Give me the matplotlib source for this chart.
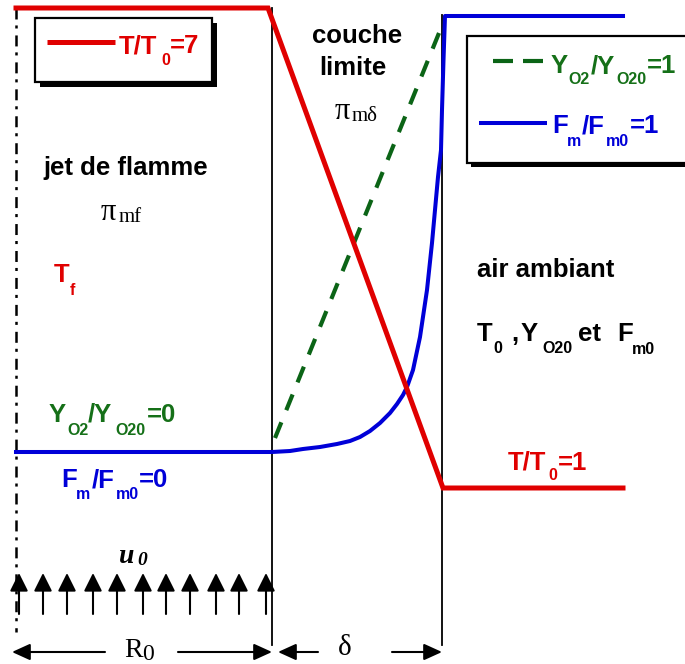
import matplotlib
matplotlib.use('Agg')
import matplotlib.pyplot as plt
from matplotlib.patches import Rectangle

plt.rcParams['lines.scale_dashes'] = False

W, H = 685, 664

# ---------------- schematic data (sketch units, y pointing down) ----------------
# temperature profile T/T0 (7 in the jet, 1 in ambient air)
red_x = [16, 268, 443, 623]
red_y = [8, 8, 488, 488]
# fuel mass fraction profile Fm/Fm0
blue_x = [16, 272, 290, 303, 320, 337, 350, 360, 370, 380, 390, 397, 403, 407, 413, 420,
          427, 432, 435, 438, 441, 442, 443.5, 445, 623]
blue_y = [452, 452, 451, 449, 447, 444, 441, 437, 431, 423, 413, 404, 395, 387, 370, 337,
          290, 243, 210, 177, 150, 110, 60, 16, 16]
# oxygen mass fraction profile YO2/YO20
green_x = [275, 439]
green_y = [438, 33]
# jet axis and layer boundaries
axis_x = [16, 16]
axis_y = [8, 632]
wall_R0_x = [272, 272]
wall_R0_y = [8, 645]
wall_d_x = [442, 442]
wall_d_y = [15, 645]
# jet velocity arrows u0
u_arrow_x = [19, 43, 67, 93, 117, 143, 166, 190, 216, 239, 266]
u_arrow_tail, u_arrow_tip = 614, 573
# dimension arrows (tail, tip) at y = 652
dim_y = 652
dim_arrows = [(105, 12), (178, 272), (318, 278), (392, 442)]

RED = '#E00000'
GREEN = '#0B6416'
BLUE = '#0000D8'
GREEN_T = '#157018'

fig = plt.figure(figsize=(W / 100, H / 100), dpi=100)
ax = fig.add_axes([0, 0, 1, 1])
ax.set_xlim(0, W)
ax.set_ylim(H, 0)
ax.axis('off')

# axis of the jet (dash-dot)
ax.plot(axis_x, axis_y, color='black', lw=1.8, dashes=(7.9, 4.3, 2.2, 5.0), zorder=2)
# boundaries
ax.plot(wall_R0_x, wall_R0_y, color='black', lw=1.3, zorder=2)
ax.plot(wall_d_x, wall_d_y, color='black', lw=1.3, zorder=2)

# profiles
ax.plot(green_x, green_y, color=GREEN, lw=3.0, dashes=(12.2, 9.4), dash_capstyle='butt', zorder=3)
ax.plot(blue_x, blue_y, color=BLUE, lw=2.9, solid_joinstyle='round', zorder=4)
ax.plot(red_x, red_y, color=RED, lw=3.6, solid_joinstyle='miter', zorder=5)

# velocity arrows
for x in u_arrow_x:
    ax.annotate('', xy=(x, u_arrow_tip), xytext=(x, u_arrow_tail),
                arrowprops=dict(arrowstyle='-|>,head_length=11,head_width=5.5',
                                mutation_scale=1, lw=1.5, color='black',
                                shrinkA=0, shrinkB=0), zorder=6)
for tail, tip in dim_arrows:
    ax.annotate('', xy=(tip, dim_y), xytext=(tail, dim_y),
                arrowprops=dict(arrowstyle='-|>,head_length=11,head_width=5',
                                mutation_scale=1, lw=1.5, color='black',
                                shrinkA=0, shrinkB=0), zorder=6)

# legend boxes with shadows
ax.add_patch(Rectangle((40, 23), 177, 64, facecolor='black', edgecolor='none', zorder=7))
ax.add_patch(Rectangle((35, 18), 177, 64, facecolor='white', edgecolor='black', lw=1.6, zorder=8))
ax.plot([47, 115], [42, 42], color=RED, lw=3.6, solid_capstyle='butt', zorder=9)

ax.add_patch(Rectangle((471, 40), 240, 127, facecolor='black', edgecolor='none', zorder=7, clip_on=False))
ax.add_patch(Rectangle((467, 36), 240, 127, facecolor='white', edgecolor='black', lw=1.6, zorder=8))
ax.plot([493, 543], [61, 61], color=GREEN, lw=3.0, dashes=(14.4, 7.2), dash_capstyle='butt', zorder=9)
ax.plot([479, 547], [123, 123], color=BLUE, lw=2.9, solid_capstyle='butt', zorder=9)

# ---------------- texts ----------------
SANS = 'Liberation Sans'
SERIF = 'Liberation Serif'
MAIN, SUB = 18.5, 11.5


def rich(pieces, color):
    for s, x, y, kind in pieces:
        size = MAIN if kind == 'main' else SUB
        ax.text(x, y, s, color=color, fontsize=size, fontfamily=SANS, fontweight='bold',
                ha='left', va='baseline', zorder=10)


rich([("T/T", 119, 53, 'main'), ("0", 161, 65, 'sub'), ("=7", 170, 53, 'main')], RED)
rich([("Y", 551, 73, 'main'), ("O2", 568, 84, 'sub'), ("/Y", 591, 73, 'main'),
      ("O20", 616, 84, 'sub'), ("=1", 647, 73, 'main')], GREEN_T)
rich([("F", 552, 133, 'main'), ("m", 567, 146, 'sub'), ("/F", 582, 133, 'main'),
      ("m0", 606, 146, 'sub'), ("=1", 630, 133, 'main')], BLUE)
rich([("Y", 49, 422, 'main'), ("O2", 67, 435, 'sub'), ("/Y", 88, 422, 'main'),
      ("O20", 115, 435, 'sub'), ("=0", 147, 422, 'main')], GREEN_T)
rich([("F", 61, 487, 'main'), ("m", 76, 499, 'sub'), ("/F", 92, 487, 'main'),
      ("m0", 116, 499, 'sub'), ("=0", 139, 487, 'main')], BLUE)
rich([("T", 54, 282, 'main'), ("f", 70, 295, 'sub')], RED)
rich([("T", 477, 341, 'main'), ("0", 493, 353, 'sub'), (",", 511, 341, 'main'),
      ("Y", 521, 341, 'main'), ("O20", 542, 353, 'sub'), ("et", 578, 341, 'main'),
      ("F", 617, 341, 'main'), ("m0", 632, 354, 'sub')], 'black')
rich([("T/T", 508, 470, 'main'), ("0", 548, 480, 'sub'), ("=1", 558, 470, 'main')], RED)

for s, x, y in [("jet de flamme", 126, 175), ("couche", 357, 43), ("limite", 353, 75)]:
    ax.text(x, y, s, fontsize=MAIN, fontfamily=SANS, fontweight='bold', ha='center',
            va='baseline', zorder=10)
ax.text(477, 277, "air ambiant", fontsize=MAIN, fontfamily=SANS, fontweight='bold',
        ha='left', va='baseline', zorder=10)

# pi labels
ax.text(101, 220, "\u03c0", fontsize=22, fontfamily=SERIF, ha='left', va='baseline', zorder=10)
ax.text(119, 222, "mf", fontsize=15, fontfamily=SERIF, ha='left', va='baseline', zorder=10)
ax.text(335, 119, "\u03c0", fontsize=22, fontfamily=SERIF, ha='left', va='baseline', zorder=10)
ax.text(352, 121, "m\u03b4", fontsize=15, fontfamily=SERIF, ha='left', va='baseline', zorder=10)

# u0, R0, delta
ax.text(119, 563, "u", fontsize=20, fontfamily=SERIF, fontweight='bold', fontstyle='italic',
        ha='left', va='baseline', zorder=10)
ax.text(137, 565, "0", fontsize=14, fontfamily=SERIF, fontweight='bold', fontstyle='italic',
        ha='left', va='baseline', zorder=10)
ax.text(124, 657, "R", fontsize=20, fontfamily=SERIF, ha='left', va='baseline', zorder=10)
ax.text(142, 660, "0", fontsize=17, fontfamily=SERIF, ha='left', va='baseline', zorder=10)
ax.text(345, 655, "\u03b4", fontsize=21, fontfamily=SERIF, ha='center', va='baseline', zorder=10)

fig.savefig('out.png', dpi=100)
